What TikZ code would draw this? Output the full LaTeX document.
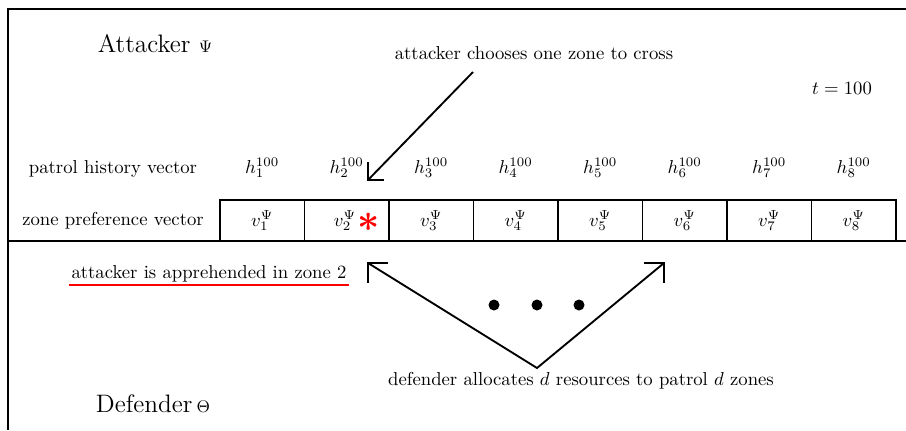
\documentclass[tikz,border=0pt]{standalone}
\usepackage{amsmath}
\usetikzlibrary{calc}
\begin{document}
\begin{tikzpicture}[x=0.5348pt,y=-0.5348pt,line width=1pt,
  lbl/.style={inner sep=0pt,font=\normalsize},
  big/.style={inner sep=0pt,font=\fontsize{13.5}{16}\selectfont},
  conn/.style={line width=1pt},
  barb/.style={line width=1pt,line cap=butt}]
\useasboundingbox (0,0) rectangle (906,430);
% frame
\coordinate (tl) at (8,9);
\coordinate (tr) at (906,9);
\coordinate (bl) at (8,430);
\coordinate (ml) at (8,241);
\coordinate (mr) at (906,241);
\draw (tr) -- (tl) -- (bl);
\draw (ml) -- (mr);
% titles
\node[big] (att) at (155,44) {Attacker {\fontsize{9.5}{11}\selectfont$\Psi$}};
\node[big] (def) at (153,404) {Defender\,{\fontsize{9.5}{11}\selectfont$\Theta$}};
\node[lbl] (choose) at (534,53) {attacker chooses one zone to cross};
\node[lbl] (time) at (842,88) {$t=100$};
\node[lbl] (phv) at (113,169) {patrol history vector};
\node[lbl] (zpv) at (113,221) {zone preference vector};
% table of zones
\coordinate (tabnw) at (220,200);
\coordinate (tabse) at (896,241);
\draw (tabnw) rectangle (tabse);
\foreach \i in {1,...,7}{
  \pgfmathsetmacro{\bx}{220+84.5*\i}
  \draw (\bx,200) -- (\bx,241);
}
\foreach \i in {1,...,8}{
  \pgfmathsetmacro{\cx}{220+84.5*(\i-0.5)}
  \node[lbl] (h\i) at (\cx,168) {$h_{\i}^{100}$};
}
\foreach \i in {1,3,4,5,6,7,8}{
  \pgfmathsetmacro{\cx}{220+84.5*(\i-0.5)}
  \node[lbl] (v\i) at (\cx,220.5) {$v_{\i}^{\Psi}$};
}
\node[lbl] (v2) at (345,220.5) {$v_{2}^{\Psi}$};
\node[inner sep=0pt,text=red,font=\fontsize{21}{21}\selectfont\boldmath] (star) at (369,222) {$\ast$};
% apprehended
\node[inner sep=1pt] (appr) at (209,274) {attacker is apprehended in zone 2};
\draw[red,line width=1.1pt] (appr.south west) -- (appr.south east);
% upper arrow
\coordinate (us) at (473,72);
\coordinate (ut) at (368,180);
\draw[conn] (us) -- (ut);
\draw[barb] ($(ut)+(16,0)$) -- (ut) -- ($(ut)+(0,-18)$);
% dots
\fill (494,305) circle[radius=5.5];
\fill (537,305) circle[radius=5.5];
\fill (579,305) circle[radius=5.5];
% lower arrows
\coordinate (apex) at (537,368);
\coordinate (lt) at (368,263);
\coordinate (rt) at (664,263);
\draw[conn] (lt) -- (apex) -- (rt);
\draw[barb] ($(lt)+(20,0)$) -- (lt) -- ($(lt)+(0,20)$);
\draw[barb] ($(rt)+(-20,0)$) -- (rt) -- ($(rt)+(0,20)$);
\node[lbl] (alloc) at (581,381) {defender allocates $d$ resources to patrol $d$ zones};
\end{tikzpicture}
\end{document}
